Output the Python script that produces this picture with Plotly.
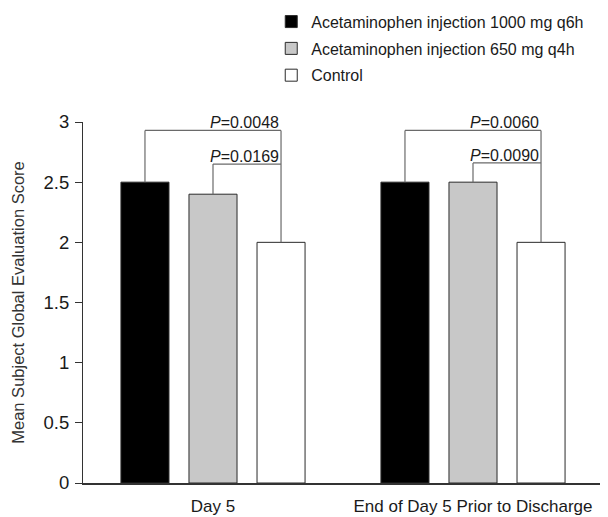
import plotly.graph_objects as go

categories = ["Day 5", "End of Day 5 Prior to Discharge"]
series_names = ["Acetaminophen injection 1000 mg q6h",
                "Acetaminophen injection 650 mg q4h",
                "Control"]
dose_1000 = [2.5, 2.5]
dose_650 = [2.4, 2.5]
control = [2.0, 2.0]
series_values = [dose_1000, dose_650, control]
colors = ["#000000", "#c8c8c8", "#ffffff"]

p_outer = ["0.0048", "0.0060"]
p_inner = ["0.0169", "0.0090"]
level_outer = [2.93, 2.93]
level_inner = [2.65, 2.66]
y_ticks = [0, 0.5, 1, 1.5, 2, 2.5, 3]
y_tick_text = ["0", "0.5", "1", "1.5", "2", "2.5", "3"]

BARGAP = 0.215
BARGROUPGAP = 0.294

xs = list(range(len(categories)))
fig = go.Figure()
for name, vals, c in zip(series_names, series_values, colors):
    fig.add_trace(go.Bar(
        x=xs, y=vals, name=name, legendgroup=name,
        marker=dict(color=c, line=dict(color="#2a2a2a", width=1)),
        hoverinfo="skip"))

slot = (1 - BARGAP) / len(series_names)
def bar_center(i, j):
    return i + (j - (len(series_names) - 1) / 2) * slot

line_col = "#6a6a6a"
for i in xs:
    for (j0, level, p) in [(0, level_outer[i], p_outer[i]), (1, level_inner[i], p_inner[i])]:
        x0 = bar_center(i, j0)
        x1 = bar_center(i, 2)
        y0 = series_values[j0][i]
        fig.add_shape(type="line", x0=x0, x1=x0, y0=y0, y1=level, xref="x", yref="y",
                      line=dict(color=line_col, width=1.2))
        fig.add_shape(type="line", x0=x0, x1=x1, y0=level, y1=level, xref="x", yref="y",
                      line=dict(color=line_col, width=1.2))
        fig.add_annotation(x=x1, y=level, xref="x", yref="y", text="<i>P</i>=" + p,
                           showarrow=False, xanchor="right", yanchor="bottom",
                           yshift=-3, xshift=0,
                           font=dict(size=16, color="#1a1a1a"))
    xr = bar_center(i, 2)
    fig.add_shape(type="line", x0=xr, x1=xr, y0=series_values[2][i], y1=level_outer[i],
                  xref="x", yref="y", line=dict(color=line_col, width=1.2))

# page body has an 8px margin, so the figure is sized/offset accordingly
fig.update_layout(
    width=600, height=509,
    margin=dict(l=75, r=5, t=114, b=34, autoexpand=False),
    paper_bgcolor="white", plot_bgcolor="white",
    barmode="group", bargap=BARGAP, bargroupgap=BARGROUPGAP,
    font=dict(family="Liberation Sans, Arial, sans-serif", color="#1a1a1a"),
    showlegend=True,
    legend=dict(x=0.362, y=1.325, xanchor="left", yanchor="top",
                font=dict(size=16, color="#1a1a1a"),
                traceorder="grouped", tracegroupgap=3,
                bgcolor="rgba(0,0,0,0)"),
    xaxis=dict(range=[-0.5, 1.5], tickvals=xs, ticktext=categories,
               showline=True, linecolor="#333333", linewidth=1.5,
               ticks="", showgrid=False, zeroline=False, automargin=False,
               tickfont=dict(size=17, color="#1a1a1a"), ticklabelstandoff=7),
    yaxis=dict(range=[0, 3], tickvals=y_ticks, ticktext=y_tick_text,
               showline=True, linecolor="#333333", linewidth=1.2,
               ticks="outside", ticklen=7, tickcolor="#333333",
               showgrid=False, zeroline=False, automargin=False,
               ticklabelstandoff=2,
               tickfont=dict(size=18.5, color="#1a1a1a"),
               title=dict(text="Mean Subject Global Evaluation Score",
                          font=dict(size=16.5, color="#333333"), standoff=14)),
)

fig.write_html("out.html")
